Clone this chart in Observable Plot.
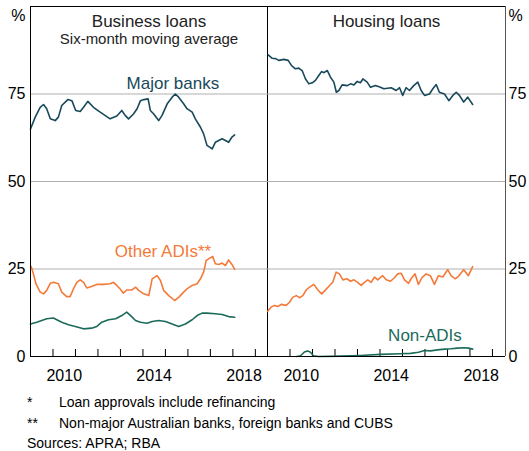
<!DOCTYPE html>
<html>
<head>
<meta charset="utf-8">
<script src="https://cdn.jsdelivr.net/npm/d3@7"></script>
<script src="https://cdn.jsdelivr.net/npm/@observablehq/plot@0.6"></script>
<style>
  html, body { margin: 0; padding: 0; background: #fff; }
  body { width: 529px; height: 451px; overflow: hidden; font-family: Arial, "Liberation Sans", sans-serif; color: #000; }
  #charts { position: relative; width: 529px; height: 385px; }
  #left { position: absolute; left: 0; top: 0; }
  #right { position: absolute; left: 267px; top: 0; }
  #notes { padding-top: 7px; font-size: 14px; line-height: 20.5px; }
  .row { display: flex; }
  .mk { width: 32px; padding-left: 27px; box-sizing: content-box; }
  .src { padding-left: 27px; }
</style>
</head>
<body>
<div id="charts"><div id="left"></div><div id="right"></div></div>
<div id="notes">
  <div class="row"><span class="mk">*</span><span>Loan approvals include refinancing</span></div>
  <div class="row"><span class="mk">**</span><span>Non-major Australian banks, foreign banks and CUBS</span></div>
  <div class="src">Sources: APRA; RBA</div>
</div>
<script>
// ---------- data (decimal year, per cent share) ----------
const busMajorT = [2009.0,2009.21,2009.43,2009.58,2009.72,2009.88,2010.1,2010.24,2010.39,2010.66,2010.84,2011.01,2011.21,2011.36,2011.55,2011.8,2012.1,2012.54,2012.84,2013.06,2013.21,2013.36,2013.58,2013.74,2013.89,2014.04,2014.23,2014.33,2014.48,2014.7,2014.85,2015.08,2015.3,2015.44,2015.59,2015.81,2015.96,2016.19,2016.33,2016.56,2016.7,2016.85,2017.08,2017.22,2017.37,2017.52,2017.67,2017.81,2017.96,2018.08];
const busMajorV = [65,68.4,71.2,72,70.8,67.9,67.4,68.4,71.7,73.4,73.1,70.3,70,71.2,72.9,71.2,69.8,67.9,68.7,70.3,68.9,67.9,69.3,70.8,73.1,73.4,73.6,70.3,69.3,67.4,68.9,72.2,74.1,75,74.1,72.2,70.8,69.8,67.9,65.5,63.6,60.3,59.3,61.2,61.7,62.2,61.7,61.2,62.7,63.3];

const busOtherT = [2009.03,2009.13,2009.24,2009.43,2009.58,2009.72,2009.88,2010.02,2010.24,2010.39,2010.61,2010.76,2010.91,2011.06,2011.21,2011.36,2011.5,2011.72,2011.95,2012.24,2012.54,2012.69,2012.84,2012.99,2013.13,2013.28,2013.5,2013.68,2013.81,2014.04,2014.26,2014.41,2014.63,2014.78,2014.92,2015.15,2015.41,2015.59,2015.81,2015.96,2016.19,2016.41,2016.56,2016.7,2016.81,2016.92,2017.1,2017.22,2017.37,2017.52,2017.67,2017.81,2017.96,2018.08];
const busOtherV = [25.7,23.6,20.8,18.4,17.9,18.9,20.9,21.2,20.8,18.4,17.1,17.1,19.3,21.2,21.9,21.2,19.6,20,20.6,20.6,20.8,21.2,20.3,19.3,18.1,19,19,19.8,18.9,17.9,17.4,22.2,23.1,21.7,18.9,17.4,16,16.9,18.4,19.3,20.3,20.8,22.2,24.1,27.4,27.9,28.6,26.5,26.3,26.7,26,27.6,26.3,24.9];

const busNonT = [2009.0,2009.28,2009.5,2009.72,2010.02,2010.17,2010.39,2010.69,2010.99,2011.36,2011.72,2011.95,2012.17,2012.47,2012.79,2013.06,2013.28,2013.5,2013.67,2013.89,2014.19,2014.41,2014.7,2015.0,2015.3,2015.59,2015.89,2016.19,2016.41,2016.63,2016.85,2017.22,2017.52,2017.81,2018.08];
const busNonV = [9.3,9.8,10.3,10.8,11,10.5,9.8,9.1,8.6,7.9,8.1,8.6,9.8,10.5,10.8,11.7,12.7,11.4,10.3,9.8,9.5,10,10.3,10,9.3,8.6,9.3,10.5,11.7,12.4,12.4,12.2,12,11.4,11.2];

const houMajorT = [2009.03,2009.21,2009.36,2009.5,2009.73,2009.92,2010.07,2010.24,2010.39,2010.54,2010.69,2010.84,2010.99,2011.13,2011.28,2011.4,2011.51,2011.66,2011.8,2011.95,2012.06,2012.17,2012.32,2012.55,2012.69,2012.84,2012.99,2013.13,2013.24,2013.43,2013.58,2013.8,2014.02,2014.17,2014.5,2014.72,2014.87,2015.01,2015.16,2015.31,2015.5,2015.68,2015.83,2015.98,2016.2,2016.35,2016.5,2016.64,2016.87,2017.06,2017.24,2017.39,2017.53,2017.72,2017.9,2018.12];
const houMajorV = [86.2,85.2,85.1,84.6,84.9,84.6,83.1,82.2,82.4,81.7,79.3,77.9,78.2,78.9,80.3,81.4,81.1,81.7,79.8,78.4,75.5,76,77.6,77.4,77.9,77.6,78.6,78.2,79.3,78.4,76.9,77.4,76.9,76.5,76.8,76,76.8,74.6,76.8,76,77.4,78.4,76,74.6,75,76.5,77.7,75.5,75,73.1,74.6,75.5,74.6,72.7,74.1,72];

const houOtherT = [2009.01,2009.16,2009.31,2009.46,2009.61,2009.83,2009.98,2010.12,2010.28,2010.42,2010.57,2010.72,2010.87,2011.06,2011.24,2011.41,2011.56,2011.76,2011.9,2012.05,2012.2,2012.35,2012.54,2012.69,2012.84,2013.01,2013.16,2013.31,2013.46,2013.61,2013.76,2013.9,2014.12,2014.28,2014.47,2014.64,2014.79,2014.94,2015.09,2015.27,2015.41,2015.56,2015.71,2015.86,2016.05,2016.24,2016.42,2016.6,2016.79,2017.01,2017.16,2017.34,2017.49,2017.72,2017.93,2018.12];
const houOtherV = [12.9,14.1,14.6,14.3,14.9,14.6,15.5,16.9,17.4,16.8,17.4,19,19.8,20.6,19,17.9,18.9,20.3,21.2,24.1,23.6,21.9,22.2,21.5,21.9,21.2,20.3,21.2,21.9,21.2,22.7,21.9,23.1,21.9,21.5,22.5,23.6,23.8,21.9,20.9,22.5,23.6,20.6,22.5,23.6,23.1,20.6,23.1,22.7,24.8,23.1,22.2,22.9,24.8,23.1,25.7];

const houNonT = [2010.3,2010.47,2010.64,2010.78,2010.91,2011.04,2011.27,2012.24,2013.13,2014.02,2014.91,2015.36,2015.71,2015.98,2016.24,2016.56,2016.87,2017.16,2017.44,2017.76,2017.93,2018.12];
const houNonV = [0,0.2,1.3,1.6,1.2,0.2,0,0.1,0.3,0.6,0.8,0.9,1.2,1.7,1.6,1.9,2.1,2.2,2.4,2.5,2.4,2.1];

const panelTitles = ["Business loans", "Housing loans"];
const subTitle = "Six-month moving average";
const seriesNames = ["Major banks", "Other ADIs**", "Non-ADIs"];
const yTicks = [0, 25, 50, 75];
const gridVals = [25, 50, 75];
const tickYears = [2010, 2011, 2012, 2013, 2014, 2015, 2016, 2017, 2018, 2019];
const yearLabels = [2010, 2014, 2018];

// ---------- helpers ----------
const zip = (T, V) => T.map((t, i) => ({t, v: V[i]}));
const C = {major: "#17495b", other: "#f47a3a", non: "#1c6b5a"};
const FONT = 'Arial, "Liberation Sans", sans-serif';
const H = 385, MT = 6, MB = 29;
const xMax = 2019.54;

function common(anchor) {
  return [
    Plot.ruleY(gridVals, {stroke: "#b0b0b0", strokeWidth: 1}),
    Plot.ruleX(tickYears, {x: d => d, y1: 0, y2: 2, stroke: "#000"}),
    Plot.text(yearLabels, {x: d => d + 0.5, y: 0, text: d => String(d), dy: 19, lineAnchor: "middle", fontSize: 16, fill: "#000"}),
    Plot.axisY({anchor, ticks: yTicks, tickSize: 0, tickPadding: anchor === "left" ? 5 : 3, fontSize: 16, label: null, tickFormat: d => String(d)})
  ];
}

const left = Plot.plot({
  width: 267, height: H, marginLeft: 30, marginRight: 0, marginTop: MT, marginBottom: MB,
  x: {domain: [2009, xMax], axis: null},
  y: {domain: [0, 100]},
  style: {fontFamily: FONT, fontSize: "16px", background: "transparent", overflow: "visible", color: "#000"},
  marks: [
    ...common("left"),
    Plot.line(zip(busOtherT, busOtherV), {x: "t", y: "v", stroke: C.other, strokeWidth: 1.6}),
    Plot.line(zip(busNonT, busNonV), {x: "t", y: "v", stroke: C.non, strokeWidth: 1.6}),
    Plot.line(zip(busMajorT, busMajorV), {x: "t", y: "v", stroke: C.major, strokeWidth: 1.6}),
    Plot.ruleY([0, 100], {stroke: "#000"}),
    Plot.ruleX([2009, xMax], {stroke: "#000"}),
    Plot.text([panelTitles[0]], {frameAnchor: "top", dy: 15, lineAnchor: "middle", fontSize: 17, fill: "#222"}),
    Plot.text([subTitle], {frameAnchor: "top", dy: 32.5, lineAnchor: "middle", fontSize: 15, fill: "#222"}),
    Plot.text([seriesNames[0]], {x: 2015.33, y: 78.1, lineAnchor: "middle", fontSize: 17, fill: C.major}),
    Plot.text([seriesNames[1]], {x: 2014.89, y: 30, lineAnchor: "middle", fontSize: 17, fill: C.other}),
    Plot.text(["%"], {frameAnchor: "top-left", dx: -5, dy: 9, textAnchor: "end", lineAnchor: "middle", fontSize: 16, fill: "#000"})
  ]
});

const right = Plot.plot({
  width: 262, height: H, marginLeft: 0, marginRight: 24, marginTop: MT, marginBottom: MB,
  x: {domain: [2009, xMax + 0.04], axis: null},
  y: {domain: [0, 100]},
  style: {fontFamily: FONT, fontSize: "16px", background: "transparent", overflow: "visible", color: "#000"},
  marks: [
    ...common("right"),
    Plot.line(zip(houNonT, houNonV), {x: "t", y: "v", stroke: C.non, strokeWidth: 1.6}),
    Plot.line(zip(houOtherT, houOtherV), {x: "t", y: "v", stroke: C.other, strokeWidth: 1.6}),
    Plot.line(zip(houMajorT, houMajorV), {x: "t", y: "v", stroke: C.major, strokeWidth: 1.6}),
    Plot.ruleY([0, 100], {stroke: "#000"}),
    Plot.ruleX([xMax + 0.04], {stroke: "#555"}),
    Plot.text([panelTitles[1]], {frameAnchor: "top", dy: 15, lineAnchor: "middle", fontSize: 17, fill: "#222"}),
    Plot.text([seriesNames[2]], {x: 2016.0, y: 6, lineAnchor: "middle", fontSize: 17, fill: C.non}),
    Plot.text(["%"], {frameAnchor: "top-right", dx: 3, dy: 9, textAnchor: "start", lineAnchor: "middle", fontSize: 16, fill: "#000"})
  ]
});

document.getElementById("left").appendChild(left);
document.getElementById("right").appendChild(right);
</script>
</body>
</html>
